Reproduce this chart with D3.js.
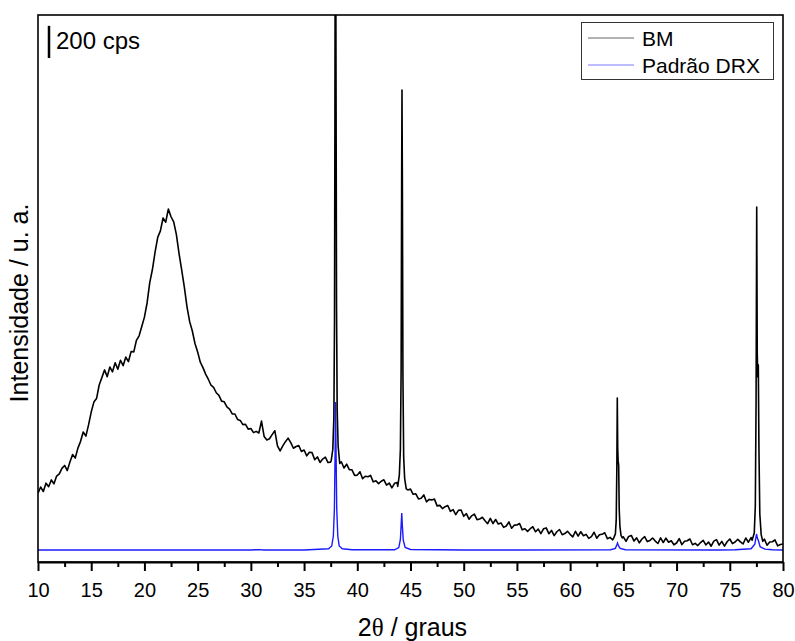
<!DOCTYPE html>
<html>
<head>
<meta charset="utf-8">
<script src="https://cdn.jsdelivr.net/npm/d3@7/dist/d3.min.js"></script>
<style>
  body { margin: 0; background: #fff; }
  text { font-family: "Liberation Sans", Arial, sans-serif; fill: #000; }
</style>
</head>
<body>
<svg id="chart" width="795" height="641"></svg>
<script>
// x ticks
var xTicks = [10, 15, 20, 25, 30, 35, 40, 45, 50, 55, 60, 65, 70, 75, 80];
var xMinorTicks = [12.5, 17.5, 22.5, 27.5, 32.5, 37.5, 42.5, 47.5, 52.5, 57.5, 62.5, 67.5, 72.5, 77.5];

// BM background, read every 0.25 deg from 10 to 80 (cps)
var bmStart = 10, bmStep = 0.25;
var bmBackground = [
    428, 466, 438, 490,   // 10
    468, 510, 486, 534,   // 11
    548, 582, 600, 568,   // 12
    622, 668, 646, 708,   // 13
    750, 808, 782, 852,   // 14
    932, 994, 1016, 1100, // 15
    1146, 1194, 1152, 1212, // 16
    1182, 1238, 1198, 1254, // 17
    1220, 1274, 1246, 1308, // 18
    1306, 1378, 1406, 1464, // 19
    1522, 1610, 1736, 1818, // 20
    1926, 2018, 2058, 2138, // 21
    2112, 2194, 2146, 2114, // 22
    2036, 1918, 1816, 1708, // 23
    1586, 1494, 1436, 1358, // 24
    1306, 1242, 1208, 1168, // 25
    1136, 1100, 1086, 1052, // 26
    1036, 1000, 996, 964, // 27
    950, 920, 920, 886,   // 28
    880, 854, 856, 826,   // 29
    830, 804, 812, 802,   // 30
    876, 780, 758, 766,   // 31
    792, 816, 722, 690,   // 32
    722, 748, 770, 742,   // 33
    707, 718, 724, 687,   // 34
    696, 660, 682, 680,   // 35
    636, 653, 619, 640,   // 36
    652, 618, 621, 633,   // 37
    618, 596, 623, 584,   // 38
    608, 574, 573, 538,   // 39
    540, 561, 518, 533,   // 40
    530, 538, 498, 505,   // 41
    487, 502, 511, 478,   // 42
    491, 461, 489, 494,   // 43
    456, 469, 430, 448,   // 44
    453, 421, 424, 392,   // 45
    396, 417, 374, 389,   // 46
    386, 391, 349, 352,   // 47
    332, 344, 351, 315,   // 48
    326, 294, 321, 323,   // 49
    284, 301, 266, 287,   // 50
    298, 263, 267, 278,   // 51
    256, 238, 271, 239,   // 52
    264, 236, 243, 215,   // 53
    224, 249, 210, 229,   // 54
    230, 239, 200, 207,   // 55
    190, 207, 219, 188,   // 56
    204, 176, 206, 212,   // 57
    176, 196, 164, 188,   // 58
    202, 170, 177, 191,   // 59
    172, 156, 191, 161,   // 60
    188, 163, 172, 147,   // 61
    158, 185, 148, 169,   // 62
    172, 182, 145, 153,   // 63
    138, 156, 169, 139,   // 64
    156, 128, 159, 165,   // 65
    130, 150, 119, 143,   // 66
    158, 127, 134, 149,   // 67
    130, 115, 150, 121,   // 68
    148, 123, 132, 107,   // 69
    118, 145, 108, 129,   // 70
    132, 143, 107, 116,   // 71
    102, 121, 135, 106,   // 72
    124, 98, 130, 139,    // 73
    105, 128, 99, 126,    // 74
    143, 114, 124, 141,   // 75
    125, 112, 149, 123,   // 76
    152, 120, 140, 118,   // 77
    116, 142, 104, 124,   // 78
    126, 137, 100, 109,   // 79
    112                   // 80
];

// BM sharp reflections [2theta, cps]
var bmPeak38 = [[37.55, 630], [37.7, 700], [37.8, 900], [37.86, 1500], [37.9, 2800], [37.92, 3700],
    [37.98, 3700], [38.01, 2800], [38.05, 1600], [38.11, 950], [38.2, 720], [38.35, 612]];
var bmPeak44 = [[43.8, 470], [43.95, 540], [44.05, 700], [44.12, 1200], [44.17, 2400], [44.2, 2934],
    [44.24, 2300], [44.29, 1150], [44.36, 650], [44.45, 520], [44.6, 455]];
var bmPeak64 = [[64.1, 150], [64.25, 175], [64.33, 260], [64.39, 600], [64.43, 1019], [64.47, 700],
    [64.51, 630], [64.56, 600], [64.61, 330], [64.68, 220], [64.78, 165], [64.9, 150]];
var bmPeak77 = [[77.1, 135], [77.3, 180], [77.4, 350], [77.47, 1000], [77.53, 2207], [77.58, 1300],
    [77.63, 1150], [77.68, 1225], [77.74, 700], [77.82, 300], [77.95, 170], [78.1, 128]];

// Padrao DRX reference pattern [2theta, cps]
var drxPattern = [[10, 75], [30, 75], [30.8, 77], [31.2, 75], [35, 75], [37.3, 82], [37.6, 100],
    [37.75, 160], [37.85, 330], [37.92, 700], [37.96, 995], [38.0, 720], [38.07, 330], [38.17, 160],
    [38.3, 100], [38.6, 82], [39.5, 76], [43.5, 76], [43.9, 90], [44.05, 140], [44.13, 240],
    [44.18, 304], [44.23, 230], [44.32, 135], [44.5, 90], [45, 78], [50, 75], [55, 75], [63.8, 76],
    [64.25, 85], [64.38, 105], [64.45, 118], [64.55, 100], [64.7, 84], [65.2, 76], [74, 75],
    [75.5, 76], [77.0, 82], [77.35, 110], [77.45, 150], [77.52, 174], [77.58, 150], [77.7, 130],
    [77.85, 95], [78.3, 80], [79, 76], [80, 75]];

var scaleBarCps = 200;

var svg = d3.select("#chart"),
    plotLeft = 38, plotRight = 783, plotTop = 15, plotBottom = 562;

var x = d3.scaleLinear().domain([10, 80]).range([plotLeft, plotRight]);
var y = d3.scaleLinear().domain([0, 3400]).range([plotBottom, plotTop]);

// merge background with the peaks
var peaks = [bmPeak38, bmPeak44, bmPeak64, bmPeak77];
var bmData = bmBackground.map(function(v, i) { return [bmStart + i * bmStep, v]; })
    .filter(function(d) {
        return !peaks.some(function(p) { return d[0] >= p[0][0] && d[0] <= p[p.length - 1][0]; });
    });
peaks.forEach(function(p) { bmData = bmData.concat(p); });
bmData.sort(function(a, b) { return a[0] - b[0]; });

svg.append("clipPath").attr("id", "plot-clip")
    .append("rect")
    .attr("x", plotLeft).attr("y", plotTop)
    .attr("width", plotRight - plotLeft).attr("height", plotBottom - plotTop);

var line = d3.line()
    .x(function(d) { return x(d[0]); })
    .y(function(d) { return y(d[1]); });

var plot = svg.append("g").attr("clip-path", "url(#plot-clip)");

plot.append("path")
    .datum(drxPattern)
    .attr("d", line)
    .attr("fill", "none")
    .attr("stroke", "#1a1aff")
    .attr("stroke-width", 1.4);

plot.append("path")
    .datum(bmData)
    .attr("d", line)
    .attr("fill", "none")
    .attr("stroke", "#000")
    .attr("stroke-width", 1.6)
    .attr("stroke-linejoin", "round");

// frame
svg.append("rect")
    .attr("x", plotLeft).attr("y", plotTop)
    .attr("width", plotRight - plotLeft).attr("height", plotBottom - plotTop)
    .attr("fill", "none")
    .attr("stroke", "#000")
    .attr("stroke-width", 1.6);

// x axis
var minorAxis = svg.append("g")
    .attr("transform", "translate(0," + plotBottom + ")")
    .call(d3.axisBottom(x).tickValues(xMinorTicks).tickSize(5).tickSizeOuter(0).tickFormat(""));
minorAxis.select(".domain").remove();
minorAxis.selectAll("line").attr("stroke-width", 2);

var xAxis = svg.append("g")
    .attr("transform", "translate(0," + plotBottom + ")")
    .call(d3.axisBottom(x).tickValues(xTicks).tickSize(9).tickSizeOuter(0));
xAxis.select(".domain").attr("stroke-width", 2);
xAxis.selectAll(".tick line").attr("stroke-width", 2);
xAxis.selectAll(".tick text")
    .attr("y", 35)
    .attr("dy", 0)
    .style("font-size", "20px")
    .style("font-family", "'Liberation Sans', Arial, sans-serif")
    .attr("fill", "#000");

// axis titles
var xTitle = svg.append("text")
    .attr("x", (plotLeft + plotRight) / 2 + 2)
    .attr("y", 636)
    .attr("text-anchor", "middle")
    .style("font-size", "25px");
xTitle.append("tspan").text("2");
xTitle.append("tspan").style("font-family", "'Liberation Serif', 'DejaVu Serif', serif").text("θ");
xTitle.append("tspan").text(" / graus");

svg.append("text")
    .attr("transform", "translate(28," + 303 + ") rotate(-90)")
    .attr("text-anchor", "middle")
    .style("font-size", "25px")
    .text("Intensidade / u. a.");

// 200 cps scale bar
svg.append("line")
    .attr("x1", 49).attr("x2", 49)
    .attr("y1", 58).attr("y2", 58 - (y(0) - y(scaleBarCps)))
    .attr("stroke", "#000")
    .attr("stroke-width", 2.5);
svg.append("text")
    .attr("x", 56).attr("y", 49)
    .style("font-size", "24px")
    .text(scaleBarCps + " cps");

// legend
var legend = svg.append("g");
legend.append("rect")
    .attr("x", 581.5).attr("y", 22.5)
    .attr("width", 192).attr("height", 57)
    .attr("fill", "#fff")
    .attr("stroke", "#333")
    .attr("stroke-width", 1);
var legendItems = [["BM", "#666"], ["Padrão DRX", "#7a7aff"]];
legendItems.forEach(function(d, i) {
    var ly = 38 + i * 27;
    legend.append("line")
        .attr("x1", 588).attr("x2", 634)
        .attr("y1", ly).attr("y2", ly)
        .attr("stroke", d[1])
        .attr("stroke-width", 1);
    legend.append("text")
        .attr("x", 642).attr("y", ly + 8)
        .style("font-size", "21px")
        .text(d[0]);
});
</script>
</body>
</html>
